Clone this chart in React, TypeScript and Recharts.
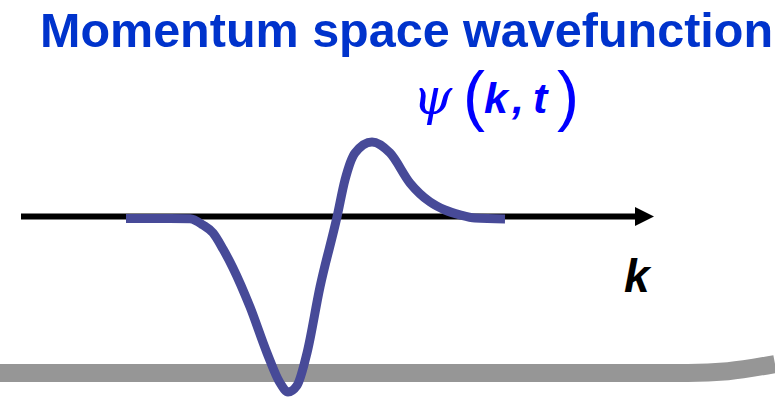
import React from "react";
import { ComposedChart, Line, XAxis, YAxis, ReferenceDot } from "recharts";

// Momentum-space wavefunction psi(k,t) (arbitrary units)
const curveK = [-4.24, -3.36, -2.96, -2.7, -2.5, -2.3, -2.1, -1.76, -1.42, -1.16, -1.0, -0.82, -0.62, -0.36, -0.02, 0.14, 0.34, 0.68, 1.04, 1.44, 1.84, 2.14, 2.44, 2.74, 3.34];
const curvePsi = [-0.011, -0.011, -0.013, -0.049, -0.094, -0.186, -0.294, -0.517, -0.78, -0.951, -1.003, -0.966, -0.78, -0.403, -0.003, 0.209, 0.363, 0.426, 0.363, 0.191, 0.083, 0.037, 0.009, -0.009, -0.014];

// k axis (arrow)
const axisK = [-6.34, 6.04];
const axisPsi = [0, 0];
const arrowTipK = 6.32;

// grey floor bar of the slide
const floorK = [-6.76, 7.0, 7.8, 8.74];
const floorPsi = [-0.894, -0.894, -0.884, -0.843];

const kDomain: [number, number] = [-6.76, 8.74];
const psiDomain: [number, number] = [-1.043, 1.237];

const titleText = "Momentum space wavefunction";
const axisLabel = "k";

const curveData = curveK.map((k, i) => ({ k, psi: curvePsi[i] }));
const axisData = axisK.map((k, i) => ({ k, psi: axisPsi[i] }));
const floorData = floorK.map((k, i) => ({ k, psi: floorPsi[i] }));

const Arrow = (props: any) => {
  const { cx, cy } = props;
  if (cx == null || cy == null) return null;
  return <polygon points={`${cx},${cy} ${cx - 19},${cy - 9.5} ${cx - 19},${cy + 9.5}`} fill="#000" />;
};

export default function App() {
  return (
    <div style={{ position: "absolute", left: 0, top: 0, width: 775, height: 399, background: "#fff" }}>
      <ComposedChart width={775} height={399} margin={{ top: 0, right: 0, bottom: 0, left: 0 }}>
        <XAxis type="number" dataKey="k" domain={kDomain} hide allowDataOverflow />
        <YAxis type="number" dataKey="psi" domain={psiDomain} hide allowDataOverflow />
        <Line data={floorData} dataKey="psi" type="monotone" stroke="#969696" strokeWidth={18} dot={false} activeDot={false} isAnimationActive={false} strokeLinecap="butt" />
        <Line data={axisData} dataKey="psi" type="linear" stroke="#000" strokeWidth={6} dot={false} activeDot={false} isAnimationActive={false} strokeLinecap="butt" />
        <ReferenceDot x={arrowTipK} y={0} shape={Arrow} ifOverflow="visible" />
        <Line data={curveData} dataKey="psi" type="monotone" stroke="#474A98" strokeWidth={9} dot={false} activeDot={false} isAnimationActive={false} strokeLinecap="butt" />
      </ComposedChart>
      <svg width={775} height={399} style={{ position: "absolute", left: 0, top: 0, pointerEvents: "none" }}>
        <text x={40} y={47} fontFamily="'Liberation Sans', Arial, sans-serif" fontWeight="bold" fontSize={48.5} fill="#0033CC">
          {titleText}
        </text>
        <text x={413} y={114} fontFamily="'DejaVu Serif', serif" fontStyle="italic" fontSize={50} fill="#0000FF">ψ</text>
        <text x={463} y={118} fontFamily="'Liberation Sans', Arial, sans-serif" fontSize={66} fill="#0000FF">(</text>
        <text x={484} y={113} fontFamily="'Liberation Sans', Arial, sans-serif" fontWeight="bold" fontStyle="italic" fontSize={43} fill="#0000FF">k</text>
        <text x={512} y={113} fontFamily="'Liberation Sans', Arial, sans-serif" fontWeight="bold" fontStyle="italic" fontSize={43} fill="#0000FF">,</text>
        <text x={533} y={113} fontFamily="'Liberation Sans', Arial, sans-serif" fontWeight="bold" fontStyle="italic" fontSize={43} fill="#0000FF">t</text>
        <text x={557} y={118} fontFamily="'Liberation Sans', Arial, sans-serif" fontSize={66} fill="#0000FF">)</text>
        <text x={624} y={292} fontFamily="'Liberation Sans', Arial, sans-serif" fontWeight="bold" fontStyle="italic" fontSize={46} fill="#000">
          {axisLabel}
        </text>
      </svg>
    </div>
  );
}
